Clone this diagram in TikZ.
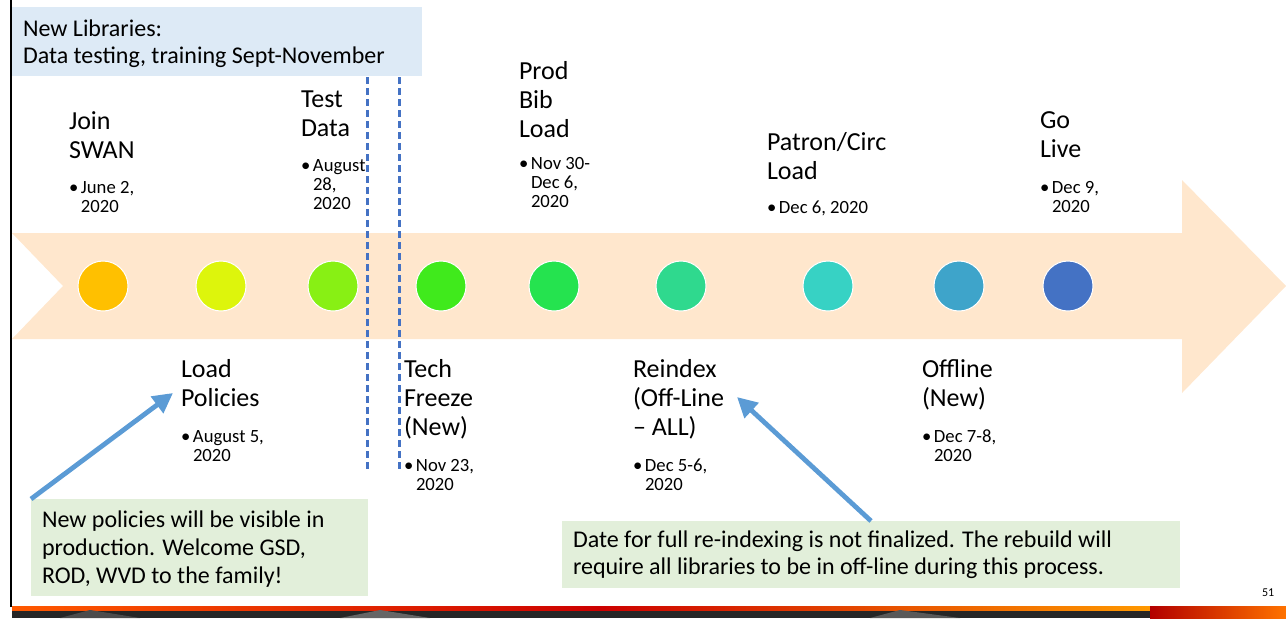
\documentclass[tikz,border=0pt]{standalone}
\usepackage{fontspec}
\setmainfont{Carlito}
\usetikzlibrary{arrows.meta}
\definecolor{bandc}{HTML}{FFE7CD}
\definecolor{topboxc}{HTML}{DDEAF6}
\definecolor{calloutc}{HTML}{E2EFDA}
\definecolor{dashblue}{HTML}{4472C4}
\definecolor{arrowblue}{HTML}{5B9BD5}
\definecolor{c1}{HTML}{FFC000}
\definecolor{c2}{HTML}{DDF50C}
\definecolor{c3}{HTML}{88F014}
\definecolor{c4}{HTML}{40EA1C}
\definecolor{c5}{HTML}{25E34F}
\definecolor{c6}{HTML}{2FD98E}
\definecolor{c7}{HTML}{37D2C4}
\definecolor{c8}{HTML}{3EA4CA}
\definecolor{c9}{HTML}{4472C4}
\newcommand\stk[2]{\vtop{\baselineskip=#1\lineskiplimit=-100pt\lineskip=0pt\relax #2}}
\newcommand\bul[1]{\hbox{\makebox[9pt][l]{•}#1}}
\newcommand\ind[1]{\hbox{\hspace*{9pt}#1}}
\begin{document}
\begin{tikzpicture}[x=0.75pt,y=-0.75pt,
  every node/.style={inner sep=0pt, outer sep=0pt},
  dot/.style={circle, draw=white, line width=0.75pt, minimum size=37.5pt},
  ttl/.style={anchor=base west, font=\fontsize{19.5pt}{21.75pt}\selectfont},
  dte/.style={anchor=base west, font=\fontsize{14pt}{14.6pt}\selectfont},
  big/.style={anchor=base west, font=\fontsize{18pt}{20.5pt}\selectfont},
  dline/.style={dashblue, line width=2.25pt, dash pattern=on 5.25pt off 3pt},
  callarrow/.style={arrowblue, line width=3.6pt, -{Triangle[length=15pt,width=15pt]}}]
\useasboundingbox (0,0) rectangle (1286,618);
% bottom decorative band
\fill[black!85] (12,606) rectangle (1150,618);
\shade[left color=orange!70!red, right color=red!80!black] (12,606) rectangle (600,610);
\shade[left color=red!80!black, right color=orange!80!yellow] (600,606) rectangle (1150,610);
\fill[black!70] (90,610) -- (140,618) -- (60,618) -- cycle;
\fill[black!60] (380,610) -- (430,618) -- (340,618) -- cycle;
\fill[black!65] (900,610) -- (960,618) -- (870,618) -- cycle;
\shade[left color=red!70!black, right color=orange!90!red] (1150,606) rectangle (1286,618);
% left rule
\fill[black] (9.5,0) rectangle (12,607);
% top box
\node[fill=topboxc, anchor=north west, minimum width=307.5pt, minimum height=51.75pt] (topbox) at (12,7) {};
\node[big] (toptext) at (23,36) {\stk{20.25pt}{\hbox{New Libraries:}\hbox{Data testing, training Sept-November}}};
% timeline arrow band
\fill[bandc] (12,233) -- (1182,233) -- (1182,180) -- (1286,286) -- (1182,393) -- (1182,339) -- (12,339) -- (63,286) -- cycle;
% dashed lines
\draw[dline] (367,77) -- (367,471);
\draw[dline] (399,77) -- (399,471);
% circles
\node[dot, fill=c1] (d1) at (103,286) {};
\node[dot, fill=c2] (d2) at (221,286) {};
\node[dot, fill=c3] (d3) at (333,286) {};
\node[dot, fill=c4] (d4) at (441,286) {};
\node[dot, fill=c5] (d5) at (554,286) {};
\node[dot, fill=c6] (d6) at (681,286) {};
\node[dot, fill=c7] (d7) at (828,286) {};
\node[dot, fill=c8] (d8) at (959,286) {};
\node[dot, fill=c9] (d9) at (1068,286) {};
% top labels
\node[ttl] (join) at (69,129) {\stk{21.75pt}{\hbox{Join}\hbox{SWAN}}};
\node[dte] (joind) at (69,193) {\stk{14.6pt}{\bul{June 2,}\ind{2020}}};
\node[ttl] (test) at (301,107) {\stk{21.75pt}{\hbox{Test}\hbox{Data}}};
\node[dte] (testd) at (301,171) {\stk{14.6pt}{\bul{August}\ind{28,}\ind{2020}}};
\node[ttl] (prod) at (519,79) {\stk{21.75pt}{\hbox{Prod}\hbox{Bib}\hbox{Load}}};
\node[dte] (prodd) at (519,169) {\stk{14.6pt}{\bul{Nov 30-}\ind{Dec 6,}\ind{2020}}};
\node[ttl] (patron) at (767,150) {\stk{21.75pt}{\hbox{Patron/Circ}\hbox{Load}}};
\node[dte] (patrond) at (767,213) {\stk{14.6pt}{\bul{Dec 6, 2020}}};
\node[ttl] (golive) at (1040,128) {\stk{21.75pt}{\hbox{Go}\hbox{Live}}};
\node[dte] (golived) at (1040,193) {\stk{14.6pt}{\bul{Dec 9,}\ind{2020}}};
% bottom labels
\node[ttl] (loadp) at (181,377) {\stk{21.75pt}{\hbox{Load}\hbox{Policies}}};
\node[dte] (loadpd) at (181,442) {\stk{14.6pt}{\bul{August 5,}\ind{2020}}};
\node[ttl] (tech) at (404,377) {\stk{21.75pt}{\hbox{Tech}\hbox{Freeze}\hbox{(New)}}};
\node[dte] (techd) at (404,471) {\stk{14.6pt}{\bul{Nov 23,}\ind{2020}}};
\node[ttl] (reindex) at (633,377) {\stk{21.75pt}{\hbox{Reindex}\hbox{(Off-Line}\hbox{– ALL)}}};
\node[dte] (reindexd) at (633,471) {\stk{14.6pt}{\bul{Dec 5-6,}\ind{2020}}};
\node[ttl] (offline) at (922,377) {\stk{21.75pt}{\hbox{Offline}\hbox{(New)}}};
\node[dte] (offlined) at (922,442) {\stk{14.6pt}{\bul{Dec 7-8,}\ind{2020}}};
% callouts
\node[fill=calloutc, anchor=north west, minimum width=252.75pt, minimum height=72.75pt] (cbox1) at (31,499) {};
\node[big] (ctext1) at (42,527) {\stk{21pt}{\hbox{New policies will be visible in}\hbox{production. Welcome GSD,}\hbox{ROD, WVD to the family!}}};
\node[fill=calloutc, anchor=north west, minimum width=463.5pt, minimum height=50.25pt] (cbox2) at (562,521) {};
\node[big] (ctext2) at (573,547) {\stk{20.25pt}{\hbox{Date for full re-indexing is not finalized. The rebuild will}\hbox{require all libraries to be in off-line during this process.}}};
% arrows
\coordinate (a1tip) at (173,393);
\coordinate (a2tip) at (737,397);
\draw[callarrow] (cbox1.north west) -- (a1tip);
\draw[callarrow] (cbox2.north west -| 871,0) -- (a2tip);
% page number
\node[anchor=base west, font=\fontsize{9pt}{10pt}\selectfont] (pnum) at (1262,596) {51};
\end{tikzpicture}
\end{document}
